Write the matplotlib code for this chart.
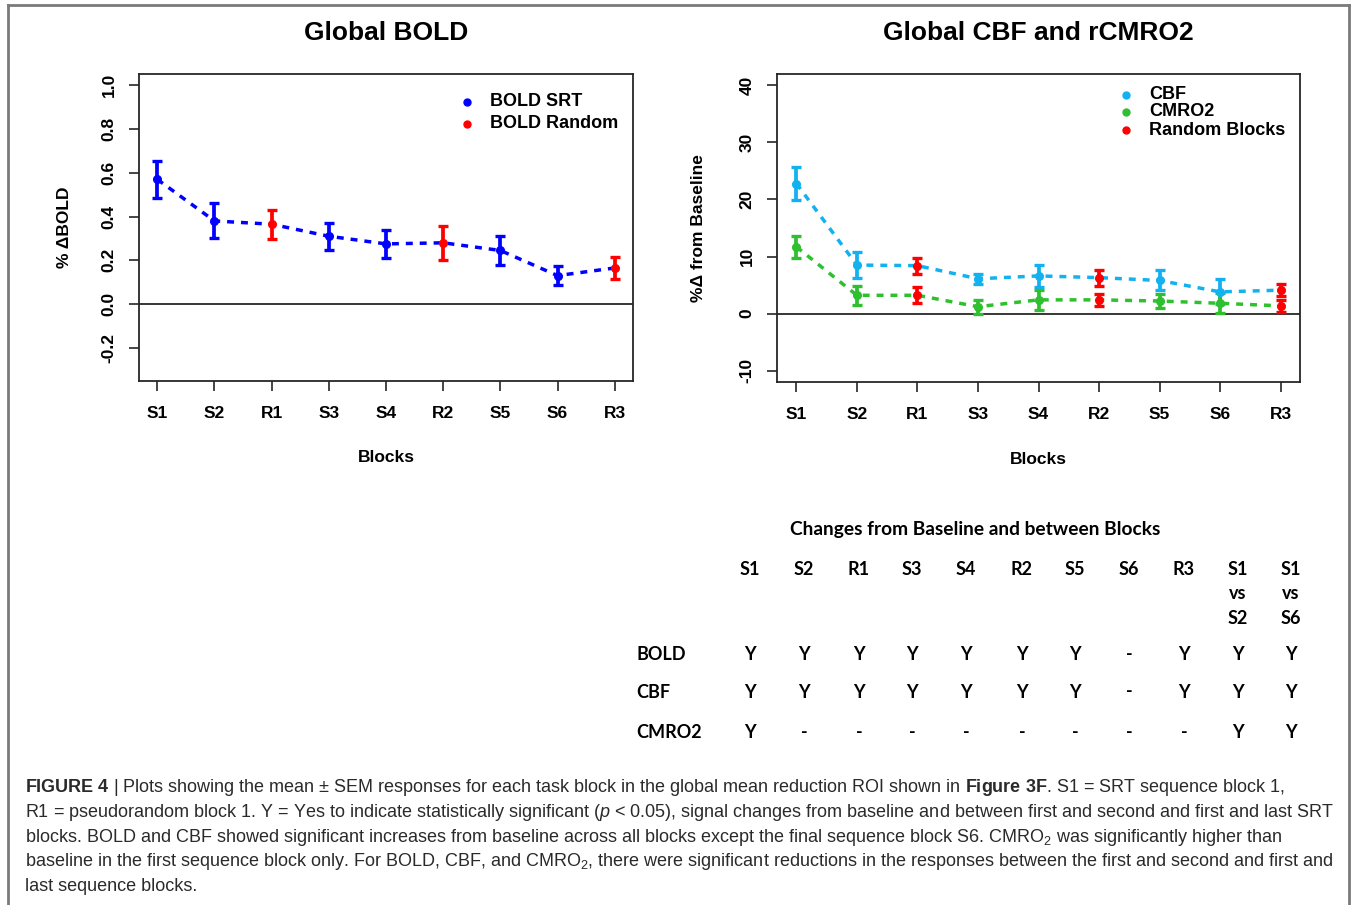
import matplotlib
matplotlib.use('Agg')
import matplotlib.pyplot as plt
from matplotlib.lines import Line2D

# ---------------- data ----------------
blocks = ['S1', 'S2', 'R1', 'S3', 'S4', 'R2', 'S5', 'S6', 'R3']
bold_mean = [0.57, 0.38, 0.365, 0.31, 0.275, 0.28, 0.245, 0.13, 0.165]
bold_sem = [0.085, 0.08, 0.067, 0.062, 0.064, 0.078, 0.067, 0.042, 0.05]
cbf_mean = [22.8, 8.5, 8.4, 6.1, 6.6, 6.3, 5.8, 3.8, 4.1]
cbf_sem = [2.9, 2.35, 1.4, 0.85, 2.0, 1.4, 1.75, 2.2, 1.1]
cmro2_mean = [11.7, 3.2, 3.2, 1.2, 2.4, 2.4, 2.2, 1.8, 1.35]
cmro2_sem = [1.9, 1.7, 1.4, 1.2, 1.75, 1.1, 1.2, 1.75, 1.1]

bold_yticks = [-0.2, 0.0, 0.2, 0.4, 0.6, 0.8, 1.0]
cbf_yticks = [-10, 0, 10, 20, 30, 40]

table_title = 'Changes from Baseline and between Blocks'
table_cols = ['S1', 'S2', 'R1', 'S3', 'S4', 'R2', 'S5', 'S6', 'R3', 'S1\nvs\nS2', 'S1\nvs\nS6']
table_rows = ['BOLD', 'CBF', 'CMRO2']
table_bold = ['Y', 'Y', 'Y', 'Y', 'Y', 'Y', 'Y', '-', 'Y', 'Y', 'Y']
table_cbf = ['Y', 'Y', 'Y', 'Y', 'Y', 'Y', 'Y', '-', 'Y', 'Y', 'Y']
table_cmro2 = ['Y', '-', '-', '-', '-', '-', '-', '-', '-', 'Y', 'Y']

caption_lines = [
    r"$\mathbf{FIGURE\ 4}$ | Plots showing the mean ± SEM responses for each task block in the global mean reduction ROI shown in $\mathbf{Figure\ 3F}$. S1 = SRT sequence block 1,",
    r"R1 = pseudorandom block 1. Y = Yes to indicate statistically significant ($p$ < 0.05), signal changes from baseline and between first and second and first and last SRT",
    r"blocks. BOLD and CBF showed significant increases from baseline across all blocks except the final sequence block S6. CMRO$_2$ was significantly higher than",
    r"baseline in the first sequence block only. For BOLD, CBF, and CMRO$_2$, there were significant reductions in the responses between the first and second and first and",
    r"last sequence blocks.",
]

# ---------------- style ----------------
plt.rcParams['font.family'] = ['Liberation Sans', 'DejaVu Sans']
plt.rcParams['mathtext.fontset'] = 'custom'
plt.rcParams['mathtext.rm'] = 'Liberation Sans'
plt.rcParams['mathtext.it'] = 'Liberation Sans:italic'
plt.rcParams['mathtext.bf'] = 'Liberation Sans:bold'

W, H = 1357, 905
fig = plt.figure(figsize=(W / 100, H / 100), dpi=100)

def px(x0, y0, x1, y1):
    return [x0 / W, 1 - y1 / H, (x1 - x0) / W, (y1 - y0) / H]

BLUE = '#0000FF'
RED = '#FF0000'
CBF_C = '#12B2F0'
GREEN = '#2EC02E'
AX_C = '#262626'

x = list(range(1, len(blocks) + 1))
is_rand = [b.startswith('R') for b in blocks]


def style_axes(ax, yticks, ylim, ylabel, title, title_y):
    ax.set_xlim(0.68, 9.32)
    ax.set_ylim(*ylim)
    ax.set_xticks(x)
    ax.set_xticklabels(blocks, fontsize=12.5, fontweight='bold')
    ax.set_yticks(yticks)
    ax.set_yticklabels([f'{t:.1f}' if isinstance(t, float) else str(t) for t in yticks],
                       fontsize=12.5, fontweight='bold', rotation=90, va='center')
    ax.tick_params(length=7, width=1.2, color=AX_C)
    ax.tick_params(axis='x', pad=11)
    ax.tick_params(axis='y', pad=9)
    for s in ax.spines.values():
        s.set_linewidth(1.3)
        s.set_color(AX_C)
    ax.axhline(0, color=AX_C, lw=1.3, zorder=1)
    ax.set_xlabel('Blocks', fontsize=12.5, fontweight='bold')
    ax.xaxis.set_label_coords(0.5, -0.25)
    ax.xaxis.label.set_va('center')
    ax.set_ylabel(ylabel, fontsize=12.5, fontweight='bold')
    ax.yaxis.set_label_coords(-0.15, 0.5)
    ax.yaxis.label.set_va('center')
    ax.set_title(title, fontsize=19, fontweight='bold', y=title_y, va='center', pad=0)


def draw_series(ax, mean, sem, line_c):
    ax.plot(x, mean, color=line_c, lw=2.5, dashes=(2, 2), zorder=2)
    for xi, m, s, r in zip(x, mean, sem, is_rand):
        c = RED if r else line_c
        ax.errorbar([xi], [m], yerr=[s], fmt='o', color=c, ms=5.5, elinewidth=2.7,
                    capsize=3.3, capthick=2.4, zorder=3)


def legend(ax, items, xm, xt, ys):
    for (lab, c), yy in zip(items, ys):
        ax.plot([xm], [yy], 'o', color=c, ms=5, transform=ax.transAxes, clip_on=False)
        ax.text(xt, yy, lab, transform=ax.transAxes, fontsize=13, fontweight='bold',
                va='center', ha='left')


# left panel
ax1 = fig.add_axes(px(139, 74, 633, 381))
style_axes(ax1, bold_yticks, (-0.352, 1.052), '% ΔBOLD', 'Global BOLD', (381 - 33) / 307)
draw_series(ax1, bold_mean, bold_sem, BLUE)
legend(ax1, [('BOLD SRT', BLUE), ('BOLD Random', RED)], 0.664, 0.7105, [0.909, 0.838])

# right panel
ax2 = fig.add_axes(px(777, 74, 1300, 382))
style_axes(ax2, cbf_yticks, (-12, 42), '%Δ from Baseline', 'Global CBF and rCMRO2',
           (382 - 33) / 308)
draw_series(ax2, cbf_mean, cbf_sem, CBF_C)
draw_series(ax2, cmro2_mean, cmro2_sem, GREEN)
legend(ax2, [('CBF', CBF_C), ('CMRO2', GREEN), ('Random Blocks', RED)],
       0.667, 0.711, [0.932, 0.877, 0.818])

# table
TF = ['Lato', 'DejaVu Sans']
fig.text(975 / W, 1 - 529 / H, table_title, family=TF, fontweight='bold',
         fontsize=13.8, ha='center', va='center')
col_x = [750, 804, 859, 912, 966, 1022, 1075, 1129, 1184, 1238, 1291]
for cx, lab in zip(col_x, table_cols):
    for k, part in enumerate(lab.split('\n')):
        fig.text(cx / W, 1 - (569 + 24.5 * k) / H, part, family=TF, fontweight='bold',
                 fontsize=13, ha='center', va='center')
row_y = [654, 692, 732]
for ry, rl, vals in zip(row_y, table_rows, [table_bold, table_cbf, table_cmro2]):
    fig.text(636 / W, 1 - ry / H, rl, family=TF, fontweight='bold', fontsize=13,
             ha='left', va='center')
    for cx, v in zip(col_x, vals):
        fig.text(cx / W, 1 - ry / H, v, family=TF, fontweight='bold', fontsize=13,
                 ha='center', va='center')

# caption
cap_y = [787, 812, 837, 861, 886]
for yy, line in zip(cap_y, caption_lines):
    fig.text(25 / W, 1 - yy / H, line, fontsize=13, ha='left', va='center', color='#2a2a2a')

# frame
fc = '#7a7a7a'
fig.add_artist(Line2D([8 / W, 8 / W], [0, 1 - 5 / H], color=fc, lw=2))
fig.add_artist(Line2D([8 / W, 1349 / W], [1 - 5 / H, 1 - 5 / H], color=fc, lw=2))
fig.add_artist(Line2D([1349 / W, 1349 / W], [0, 1 - 5 / H], color=fc, lw=2))

fig.savefig('out.png', dpi=100)
